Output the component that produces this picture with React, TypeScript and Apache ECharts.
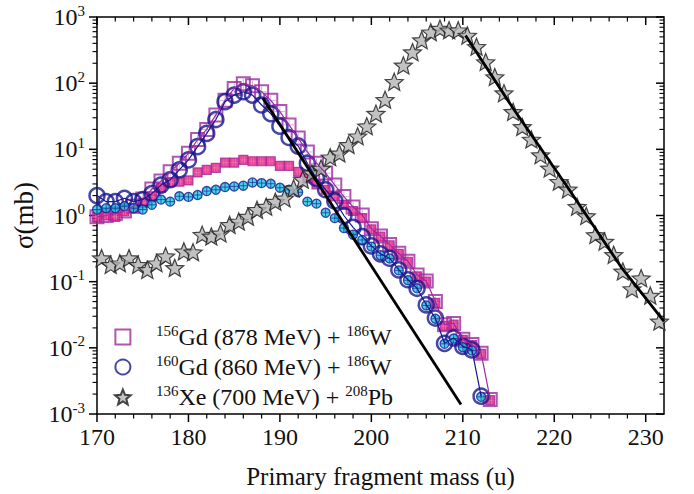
import React, { useEffect, useRef } from "react";
import * as echarts from "echarts";

const FONT = "Liberation Serif";

// 156Gd (878 MeV) + 186W
const MASS_GD156 = [170,171,172,173,174,175,176,177,178,179,180,181,182,183,184,185,186,187,188,189,190,191,192,193,194,195,196,197,198,199,200,201,202,203,204,205,206,207,208,209,210,211,212,213];
const SIGMA_GD156 = [0.955,1.0,1.07,1.17,1.38,1.78,2.51,3.31,4.57,6.17,8.71,14.1,20,33.1,55,83.2,97.7,91.2,74.1,55,37.2,23.4,14.8,9.12,6.17,4.37,2.88,1.93,1.35,1.02,0.631,0.49,0.363,0.269,0.204,0.126,0.102,0.0501,0.0224,0.0234,0.0135,0.0112,0.0083,0.00166];
const SIGMA_GD156_FILLED = [0.955,1.0,0.955,1.15,1.29,1.55,1.95,2.63,3.16,3.24,3.39,4.47,4.9,5.25,6.31,6.31,6.92,6.61,6.61,6.61,5.62,5.62,4.57,3.63,2.95,2.45,1.95,1.45,1.17,0.912,0.617,0.479,0.355,0.263,0.2,0.12,0.1,0.0479,0.0214,0.0224,0.0132,0.011,0.0081,0.00162];

// 160Gd (860 MeV) + 186W
const MASS_GD160 = [170,171,172,173,174,175,176,177,178,179,180,181,182,183,184,185,186,187,188,189,190,191,192,193,194,195,196,197,198,199,200,201,202,203,204,205,206,207,208,209,210,211,212];
const SIGMA_GD160 = [2.0,1.62,1.62,1.82,1.62,1.74,2.14,2.88,3.47,4.9,6.92,11,17.4,28.2,52.5,66.1,74.1,66.1,46.8,34.7,22.4,15.1,11.2,6.17,3.63,2.45,1.66,1.0,0.661,0.479,0.347,0.263,0.226,0.151,0.107,0.0794,0.0447,0.0282,0.0117,0.0141,0.0105,0.0093,0.00186];
const SIGMA_GD160_FILLED = [1.23,1.29,1.29,1.38,1.29,1.23,1.45,1.74,1.62,1.95,1.91,2.04,2.34,2.45,2.69,2.75,2.82,3.16,3.09,3.02,2.63,2.45,2.24,1.62,1.51,1.1,0.912,0.646,0.513,0.427,0.339,0.251,0.224,0.148,0.105,0.0794,0.0437,0.0275,0.0115,0.0138,0.0102,0.0091,0.00182];

// 136Xe (700 MeV) + 208Pb
const MASS_XE136 = [170.5,171.5,172.5,173.5,174.5,175.5,176.5,177.5,178.5,179.5,180.5,181.5,182.5,183.5,184.5,185.5,186.5,187.5,188.5,189.5,190.5,191.5,192.5,193.5,194.5,195.5,196.5,197.5,198.5,199.5,200.5,201.5,202.5,203.5,204.5,205.5,206.5,207.5,208.5,209.5,210.5,211.5,212.5,213.5,214.5,215.5,216.5,217.5,218.5,219.5,220.5,221.5,222.5,223.5,224.5,225.5,226.5,227.5,228.5,229.5,230.5,231.5];
const SIGMA_XE136 = [0.227,0.18,0.19,0.227,0.18,0.151,0.19,0.243,0.162,0.288,0.279,0.513,0.484,0.537,0.724,0.813,0.964,1.22,1.36,1.62,1.82,2.57,3.47,4.37,5.13,7.59,8.71,11.7,15.8,22.4,34.7,56.2,105,186,295,447,589,668,631,631,525,355,209,124,70.8,36.9,21.9,14.1,8.2,5.16,3.24,2.49,1.36,0.986,0.509,0.404,0.255,0.143,0.0776,0.113,0.0617,0.0251];

// fitted curves (black)
const FIT_GD_MASS = [188.15, 209.8];
const FIT_GD_SIGMA = [58.9, 0.00139];
const FIT_XE_MASS = [210.3, 215.4, 221.4, 227.4, 232];
const FIT_XE_SIGMA = [525, 43.7, 2.75, 0.16, 0.0251];

// axes
const X_MIN = 170;
const X_MAX = 232;
const Y_MIN = 0.001;
const Y_MAX = 1000;
const X_MAJOR_TICKS = [170, 180, 190, 200, 210, 220, 230];
const X_MINOR_TICKS = [172,174,176,178,182,184,186,188,192,194,196,198,202,204,206,208,212,214,216,218,222,224,226,228];
const Y_DECADES = [0.001, 0.01, 0.1, 1, 10, 100, 1000];
const Y_MINOR_MULTIPLIERS = [2, 3, 4, 5, 6, 7, 8, 9];

const LEGEND_TEXT: Record<string, string> = {
  g156: "{s|156}{n|Gd (878 MeV) + }{s|186}{n|W}",
  g160: "{s|160}{n|Gd (860 MeV) + }{s|186}{n|W}",
  xe136: "{s|136}{n|Xe (700 MeV) + }{s|208}{n|Pb}",
};

const STAR =
  "path://M50 0 L62.93 32.2 L97.55 34.55 L70.92 56.8 L79.39 90.45 L50 72 L20.61 90.45 L29.08 56.8 L2.45 34.55 L37.07 32.2 Z";
const SQUARE = "path://M0 0 L10 0 L10 10 L0 10 Z";
const PLUS = "path://M5 0 L5 10 M0 5 L10 5";
const GRID3 = "path://M3.3 0 L3.3 10 M6.7 0 L6.7 10 M0 5 L10 5";

const pairs = (xs: number[], ys: number[]) => xs.map((x, i) => [x, ys[i]]);

function buildTicks() {
  const t: number[][] = [];
  // [x, y, orientation (0 = vertical tick going down, 1 = horizontal tick going left), length, width]
  X_MAJOR_TICKS.forEach((x) => {
    t.push([x, Y_MIN, 0, 8, 1.5]);
    t.push([x, Y_MAX, 0, 8, 1.5]);
  });
  X_MINOR_TICKS.forEach((x) => {
    t.push([x, Y_MIN, 0, 4.5, 1.2]);
    t.push([x, Y_MAX, 0, 4.5, 1.2]);
  });
  Y_DECADES.forEach((d, i) => {
    t.push([X_MIN, d, 1, 8, 1.5]);
    t.push([X_MAX, d, 1, 8, 1.5]);
    if (i < Y_DECADES.length - 1) {
      Y_MINOR_MULTIPLIERS.forEach((m) => {
        t.push([X_MIN, d * m, 1, 4.5, 1.1]);
        t.push([X_MAX, d * m, 1, 4.5, 1.1]);
      });
    }
  });
  return t;
}

export default function App() {
  const ref = useRef<HTMLDivElement>(null);
  useEffect(() => {
    if (!ref.current) return;
    const chart = echarts.init(ref.current, undefined, { renderer: "svg" });
    const supRich = {
      n: { fontFamily: FONT, fontSize: 24, lineHeight: 28, color: "#111" },
      s: { fontFamily: FONT, fontSize: 15, lineHeight: 15, verticalAlign: "top", color: "#111" },
    };
    const crossSeries = (data: number[][], symbol: string, size: number, color: string, w: number) => ({
      type: "scatter",
      data,
      symbol,
      symbolSize: size,
      silent: true,
      itemStyle: { color: "none", borderColor: color, borderWidth: w },
    });
    const option: any = {
      animation: false,
      backgroundColor: "#fff",
      textStyle: { fontFamily: FONT },
      grid: {
        left: 97,
        right: 30,
        top: 17,
        bottom: 80,
        show: true,
        borderColor: "#000",
        borderWidth: 1.5,
        backgroundColor: "transparent",
      },
      xAxis: {
        type: "value",
        min: X_MIN,
        max: X_MAX,
        interval: 10,
        axisLine: { show: false },
        axisTick: { show: false },
        splitLine: { show: false },
        axisLabel: {
          margin: 11,
          fontFamily: FONT,
          fontSize: 24,
          color: "#111",
          formatter: (v: number) => (X_MAJOR_TICKS.includes(v) ? String(v) : ""),
        },
        name: "Primary fragment mass (u)",
        nameLocation: "middle",
        nameGap: 50,
        nameTextStyle: { fontFamily: FONT, fontSize: 25, color: "#111" },
      },
      yAxis: {
        type: "log",
        logBase: 10,
        min: Y_MIN,
        max: Y_MAX,
        interval: 1,
        axisLine: { show: false },
        axisTick: { show: false },
        splitLine: { show: false },
        minorTick: { show: false },
        axisLabel: {
          margin: 12,
          fontFamily: FONT,
          formatter: (v: number) => `{n|10}{s|${Math.round(Math.log10(v))}}`,
          rich: supRich,
        },
        name: "σ(mb)",
        nameLocation: "middle",
        nameGap: 53,
        nameTextStyle: { fontFamily: FONT, fontSize: 27, color: "#111" },
      },
      legend: {
        data: [
          { name: "g156", icon: SQUARE },
          { name: "g160" },
          { name: "xe136" },
        ],
        orient: "vertical",
        left: 109,
        top: 318,
        itemWidth: 56,
        itemHeight: 15,
        itemGap: 4,
        selectedMode: false,
        formatter: (name: string) => LEGEND_TEXT[name],
        textStyle: { fontFamily: FONT, fontSize: 24, color: "#111", rich: supRich },
      },
      series: [
        {
          type: "line",
          data: pairs(MASS_GD156, SIGMA_GD156),
          showSymbol: false,
          symbol: "none",
          lineStyle: { color: "#9c2aa0", width: 1.2 },
          silent: true,
        },
        crossSeries(pairs(MASS_GD156, SIGMA_GD156), PLUS, 10, "#c89fd2", 1),
        {
          name: "g156",
          type: "scatter",
          data: pairs(MASS_GD156, SIGMA_GD156),
          symbol: "rect",
          symbolSize: 13,
          itemStyle: { color: "rgba(255,255,255,0)", borderColor: "#9c2aa0", borderWidth: 2 },
        },
        {
          name: "g156f",
          type: "scatter",
          data: pairs(MASS_GD156, SIGMA_GD156_FILLED),
          symbol: "rect",
          symbolSize: 9,
          itemStyle: { color: "#e0177e", borderColor: "#a52a9a", borderWidth: 1.2 },
        },
        crossSeries(pairs(MASS_GD156, SIGMA_GD156_FILLED), GRID3, 7, "#f07ab8", 0.8),
        {
          type: "line",
          data: pairs(MASS_GD160, SIGMA_GD160),
          showSymbol: false,
          symbol: "none",
          lineStyle: { color: "#18188e", width: 1.2 },
          silent: true,
        },
        {
          name: "g160",
          type: "scatter",
          data: pairs(MASS_GD160, SIGMA_GD160),
          symbol: "circle",
          symbolSize: 15,
          itemStyle: { color: "rgba(255,255,255,0)", borderColor: "#18188e", borderWidth: 2.5 },
        },
        {
          name: "g160f",
          type: "scatter",
          data: pairs(MASS_GD160, SIGMA_GD160_FILLED),
          symbol: "circle",
          symbolSize: 9,
          itemStyle: { color: "#19c9e0", borderColor: "#18188e", borderWidth: 1.3 },
        },
        crossSeries(pairs(MASS_GD160, SIGMA_GD160_FILLED), PLUS, 8, "#18188e", 0.8),
        {
          name: "xe136",
          type: "scatter",
          data: pairs(MASS_XE136, SIGMA_XE136),
          symbol: STAR,
          symbolSize: 18,
          symbolKeepAspect: true,
          itemStyle: { color: "#b3b3b3", borderColor: "#1a1a1a", borderWidth: 1.2 },
        },
        {
          type: "line",
          data: pairs(FIT_GD_MASS, FIT_GD_SIGMA),
          symbol: "none",
          lineStyle: { color: "#000", width: 2.8 },
          silent: true,
        },
        {
          type: "line",
          data: pairs(FIT_XE_MASS, FIT_XE_SIGMA),
          symbol: "none",
          lineStyle: { color: "#000", width: 2.8 },
          silent: true,
        },
        {
          type: "custom",
          silent: true,
          clip: false,
          data: buildTicks(),
          dimensions: ["x", "y", "o", "len", "w"],
          encode: { x: 0, y: 1 },
          renderItem: (_p: any, api: any) => {
            const pt = api.coord([api.value(0), api.value(1)]);
            const o = api.value(2);
            const len = api.value(3);
            return {
              type: "line",
              shape: {
                x1: pt[0],
                y1: pt[1],
                x2: o === 0 ? pt[0] : pt[0] - len,
                y2: o === 0 ? pt[1] + len : pt[1],
              },
              style: { stroke: "#000", lineWidth: api.value(4) },
            };
          },
        },
      ],
    };
    chart.setOption(option);
    return () => chart.dispose();
  }, []);
  return (
    <div
      ref={ref}
      style={{ position: "fixed", left: 0, top: 0, width: 694, height: 494, background: "#fff" }}
    />
  );
}
